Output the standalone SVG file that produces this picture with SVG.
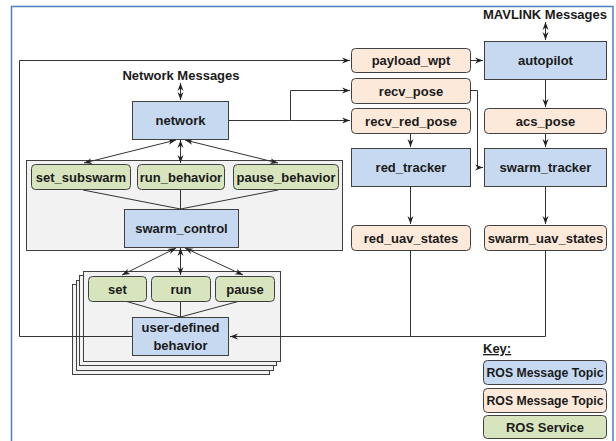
<svg xmlns="http://www.w3.org/2000/svg" width="616" height="441" viewBox="0 0 616 441">
<defs>
<style>
text{font-family:"Liberation Sans",Arial,sans-serif;font-weight:bold;font-size:13px;fill:#1a1a1a;text-anchor:middle}
.topic{fill:#c6d9f1;stroke:#404040;stroke-width:1}
.msg{fill:#fde9d9;stroke:#404040;stroke-width:1}
.srv{fill:#d7e4bd;stroke:#404040;stroke-width:1}
.frame{fill:#f2f2f2;stroke:#404040;stroke-width:1}
.c{fill:none;stroke:#333;stroke-width:1}
.a{marker-end:url(#ah)}
.b{marker-end:url(#ah);marker-start:url(#ah)}
.k{font-size:13px}
</style>
<marker id="ah" markerUnits="userSpaceOnUse" markerWidth="9" markerHeight="7" refX="8" refY="3.5" orient="auto-start-reverse">
<path d="M0,0.5 L8,3.5 L0,6.5 L2.5,3.5 z" fill="#222"/>
</marker>
</defs>
<rect x="0" y="0" width="616" height="441" fill="#fff"/>
<rect x="11.5" y="6.5" width="601.5" height="440" fill="none" stroke="#4f7fbf" stroke-width="1.5"/>

<g id="swarm-frame"><rect class="frame" x="26.5" y="160.5" width="316" height="90"/></g>
<g id="behavior-stack">
<rect class="frame" x="72.5" y="284.5" width="197" height="90"/>
<rect class="frame" x="76.5" y="280.5" width="197" height="90"/>
<rect class="frame" x="79.5" y="275.5" width="197" height="90"/>
<rect class="frame" x="83.5" y="271.5" width="197" height="90"/>
</g>

<g id="connectors">
<path class="c a" d="M132,336.5 H19.5 V60.5 H350"/>
<path class="c a" d="M229,120.5 H290.5 V90.5 H350"/>
<path class="c a" d="M290.5,120.5 H350"/>
<path class="c a" d="M470,60.5 H483"/>
<path class="c a" d="M545.5,79 V107"/>
<path class="c a" d="M545.5,133 V147"/>
<path class="c a" d="M410.5,133 V147"/>
<path class="c a" d="M470,90.5 H477.5 V167.5 H483"/>
<path class="c a" d="M410.5,186 V224"/>
<path class="c a" d="M545.5,186 V224"/>
<path class="c a" d="M545.5,250 V336.5 H230"/>
<path class="c" d="M410.5,250 V336.5"/>
<path class="c b" d="M180.5,83 V100"/>
<path class="c b" d="M545.5,22 V40"/>
<path class="c b" d="M176,140 L84,163"/>
<path class="c b" d="M180.5,140 V163"/>
<path class="c b" d="M185,140 L278,163"/>
<path class="c" d="M83,190 L180.5,209 M180.5,190 V209 M278,190 L180.5,209"/>
<path class="c b" d="M176,248 L122,275"/>
<path class="c b" d="M180.5,248 V275"/>
<path class="c b" d="M185,248 L243,275"/>
<path class="c" d="M125,301 L180.5,317 M180.5,301 V317 M240,301 L180.5,317"/>
</g>

<text x="181" y="80">Network Messages</text>
<text x="545" y="19">MAVLINK Messages</text>

<g id="network"><rect class="topic" x="132.5" y="101.5" width="96" height="38"/><text x="180.5" y="125">network</text></g>
<g id="set_subswarm"><rect class="srv" x="31.5" y="164.5" width="99" height="25" rx="4"/><text x="81" y="181.5">set_subswarm</text></g>
<g id="run_behavior"><rect class="srv" x="137.5" y="164.5" width="87" height="25" rx="4"/><text x="181" y="181.5">run_behavior</text></g>
<g id="pause_behavior"><rect class="srv" x="233.5" y="164.5" width="105" height="25" rx="4"/><text x="286" y="181.5">pause_behavior</text></g>
<g id="swarm_control"><rect class="topic" x="124.5" y="209.5" width="114" height="38"/><text x="181.5" y="233">swarm_control</text></g>
<g id="set"><rect class="srv" x="88.5" y="276.5" width="58" height="25" rx="4"/><text x="117.5" y="293.5">set</text></g>
<g id="run"><rect class="srv" x="151.5" y="276.5" width="59" height="25" rx="4"/><text x="181" y="293.5">run</text></g>
<g id="pause"><rect class="srv" x="215.5" y="276.5" width="59" height="25" rx="4"/><text x="245" y="293.5">pause</text></g>
<g id="user-defined-behavior"><rect class="topic" x="132.5" y="317.5" width="96" height="38"/><text x="180.5" y="332">user-defined</text><text x="180.5" y="350">behavior</text></g>

<g id="payload_wpt"><rect class="msg" x="351.5" y="48.5" width="119" height="24" rx="4"/><text x="411" y="65">payload_wpt</text></g>
<g id="recv_pose"><rect class="msg" x="351.5" y="78.5" width="119" height="25" rx="4"/><text x="411" y="95.5">recv_pose</text></g>
<g id="recv_red_pose"><rect class="msg" x="351.5" y="108.5" width="119" height="25" rx="4"/><text x="411" y="125.5">recv_red_pose</text></g>
<g id="autopilot"><rect class="topic" x="484.5" y="41.5" width="122" height="38"/><text x="545.5" y="65">autopilot</text></g>
<g id="acs_pose"><rect class="msg" x="484.5" y="108.5" width="122" height="25" rx="4"/><text x="545.5" y="125.5">acs_pose</text></g>
<g id="red_tracker"><rect class="topic" x="351.5" y="148.5" width="119" height="38"/><text x="411" y="172">red_tracker</text></g>
<g id="swarm_tracker"><rect class="topic" x="484.5" y="148.5" width="122" height="38"/><text x="545.5" y="172">swarm_tracker</text></g>
<g id="red_uav_states"><rect class="msg" x="351.5" y="225.5" width="119" height="25" rx="4"/><text x="411" y="242.5">red_uav_states</text></g>
<g id="swarm_uav_states"><rect class="msg" x="484.5" y="225.5" width="122" height="25" rx="4"/><text x="545.5" y="242.5">swarm_uav_states</text></g>

<g id="key">
<text x="483" y="353" style="text-anchor:start;text-decoration:underline">Key:</text>
<rect class="topic" x="483.5" y="360.5" width="123" height="24" rx="4"/><text class="k" x="545" y="377" textLength="117" lengthAdjust="spacingAndGlyphs">ROS Message Topic</text>
<rect class="msg" x="483.5" y="388.5" width="123" height="24" rx="4"/><text class="k" x="545" y="405" textLength="117" lengthAdjust="spacingAndGlyphs">ROS Message Topic</text>
<rect class="srv" x="483.5" y="415.5" width="123" height="23" rx="4"/><text class="k" x="545" y="431.5">ROS Service</text>
</g>
</svg>
